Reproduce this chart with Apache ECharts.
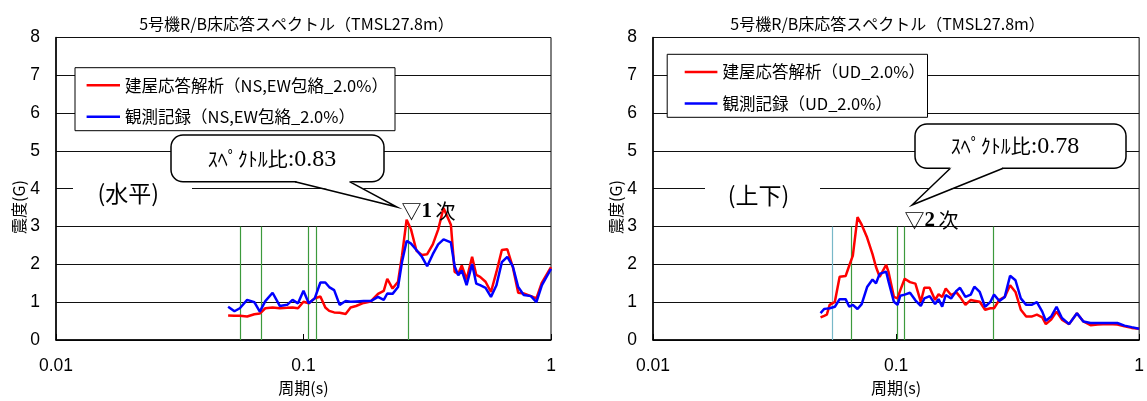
<!DOCTYPE html>
<html><head><meta charset="utf-8">
<script src="https://cdn.jsdelivr.net/npm/echarts@6/dist/echarts.min.js"></script>
<style>html,body{margin:0;padding:0;background:#fff}#c{width:1147px;height:401px}</style>
</head><body><div id="c"></div>
<script>
// ---------- text ----------
const chartTitle = '5号機R/B床応答スペクトル（TMSL27.8m）';
const leftLegend = ['建屋応答解析（NS,EW包絡_2.0%）', '観測記録（NS,EW包絡_2.0%）'];
const rightLegend = ['建屋応答解析（UD_2.0%）', '観測記録（UD_2.0%）'];
const xAxisTitle = '周期(s)';
const yAxisTitle = '震度(G)';
const xTickLabels = ['0.01', '0.1', '1'];
const yTickLabels = ['0', '1', '2', '3', '4', '5', '6', '7', '8'];
const leftRatioLabel = '0.83';
const rightRatioLabel = '0.78';

// ---------- left chart (horizontal) ----------
const leftPeriods = [0.0496, 0.0526, 0.0553, 0.0592, 0.0633, 0.0666, 0.0701, 0.0750, 0.0802, 0.0859,
  0.0903, 0.0950, 0.100, 0.105, 0.111, 0.117, 0.1225, 0.127, 0.133, 0.140,
  0.148, 0.155, 0.163, 0.175, 0.187, 0.200, 0.211, 0.218, 0.229, 0.241,
  0.250, 0.261, 0.272, 0.286, 0.301, 0.316, 0.333, 0.350, 0.368, 0.394,
  0.408, 0.422, 0.436, 0.456, 0.480, 0.499, 0.517, 0.544, 0.572, 0.602,
  0.633, 0.666, 0.701, 0.737, 0.776, 0.830, 0.873, 0.919, 1.0];
const leftAnalysis = [0.65, 0.64, 0.64, 0.62, 0.68, 0.70, 0.84, 0.86, 0.84, 0.85,
  0.86, 0.84, 1.01, 0.97, 1.10, 1.15, 0.86, 0.77, 0.73, 0.72,
  0.69, 0.86, 0.90, 0.98, 1.02, 1.22, 1.30, 1.62, 1.36, 1.54,
  2.23, 3.18, 2.92, 2.36, 2.25, 2.27, 2.53, 2.92, 3.49, 3.05,
  1.80, 1.75, 1.97, 1.60, 2.20, 1.72, 1.67, 1.54, 1.27, 1.80,
  2.38, 2.40, 1.93, 1.25, 1.23, 1.16, 1.10, 1.52, 1.93];
const leftRecord = [0.88, 0.76, 0.84, 1.06, 1.00, 0.75, 1.03, 1.25, 0.90, 0.93,
  1.06, 0.97, 1.30, 0.97, 1.10, 1.52, 1.52, 1.40, 1.32, 0.93,
  1.03, 1.01, 1.02, 1.03, 1.03, 1.14, 1.06, 1.23, 1.22, 1.40,
  2.06, 2.62, 2.55, 2.38, 2.20, 1.95, 2.27, 2.53, 2.66, 2.58,
  1.95, 1.71, 1.84, 1.45, 2.01, 1.49, 1.45, 1.38, 1.14, 1.45,
  2.06, 2.20, 1.95, 1.40, 1.19, 1.16, 1.00, 1.45, 1.88];
const leftModePeriods = [0.0557, 0.0673, 0.1045, 0.1127, 0.264];

// ---------- right chart (vertical) ----------
const rightPeriods = [0.0489, 0.0506, 0.0519, 0.0533, 0.0560, 0.0586, 0.0620, 0.0642, 0.0664, 0.0694,
  0.0722, 0.0760, 0.0800, 0.0827, 0.0856, 0.0910, 0.0931, 0.0980, 0.1014, 0.1041,
  0.1085, 0.1141, 0.1201, 0.1264, 0.1307, 0.1375, 0.1447, 0.1496, 0.1548, 0.1601,
  0.1684, 0.1772, 0.1833, 0.1929, 0.2029, 0.2099, 0.2209, 0.2324, 0.2445, 0.2529,
  0.2661, 0.2800, 0.2945, 0.3099, 0.3260, 0.3430, 0.3609, 0.3796, 0.3994, 0.4132,
  0.4346, 0.4573, 0.4812, 0.5149, 0.5548, 0.5896, 0.6310, 0.6752, 0.7474, 0.8134,
  0.8704, 0.9314, 1.0];
const rightAnalysis = [0.60, 0.64, 0.67, 0.93, 1.01, 1.67, 1.69, 1.97, 2.23, 3.25,
  3.05, 2.71, 2.27, 1.93, 1.67, 1.99, 1.80, 1.14, 1.10, 1.32,
  1.62, 1.53, 1.49, 1.01, 1.38, 1.38, 1.06, 1.21, 1.14, 1.36,
  1.19, 1.26, 1.14, 0.93, 1.06, 1.04, 1.01, 0.80, 0.84, 0.84,
  1.06, 1.14, 1.45, 1.27, 0.80, 0.62, 0.62, 0.67, 0.60, 0.42,
  0.54, 0.75, 0.54, 0.42, 0.71, 0.49, 0.39, 0.41, 0.42, 0.41,
  0.36, 0.32, 0.30];
const rightRecord = [0.71, 0.82, 0.83, 0.84, 0.88, 1.08, 1.08, 0.88, 0.93, 0.82,
  0.95, 1.40, 1.60, 1.50, 1.75, 1.81, 1.55, 1.01, 0.93, 1.17,
  1.20, 1.25, 1.05, 0.90, 1.10, 1.16, 0.95, 1.08, 0.88, 1.19,
  1.10, 1.30, 1.38, 1.14, 1.20, 1.41, 1.27, 0.88, 1.01, 1.20,
  1.03, 1.14, 1.70, 1.58, 1.10, 0.93, 0.93, 1.00, 0.75, 0.51,
  0.62, 0.88, 0.58, 0.42, 0.71, 0.49, 0.45, 0.45, 0.45, 0.45,
  0.38, 0.34, 0.30];
const rightModePeriods = [0.0545, 0.0657, 0.1014, 0.1085, 0.250];
const modeLineTop = 3;

// ---------- styling ----------
const CJK = "'Noto Sans CJK JP', 'Noto Sans', sans-serif";
const NUM = "'Liberation Sans Narrow', 'Liberation Sans', Arial, sans-serif";
const SERIF = "'Liberation Serif', 'DejaVu Serif', serif";
const RED = '#ff0000', BLUE = '#0000ff', GREEN = '#3c9a3c', TEAL = '#78b8c8';

const chart = echarts.init(document.getElementById('c'), null, {renderer: 'canvas'});

function xAxisCfg(gi) {
  return {
    type: 'log', logBase: 10, min: 0.01, max: 1, gridIndex: gi,
    axisLine: {onZero: false, lineStyle: {color: '#000', width: 1.5}},
    axisTick: {show: true, inside: true, length: 6, lineStyle: {color: '#000', width: 1}},
    axisLabel: {margin: 17, fontSize: 17.5, fontFamily: NUM, color: '#000',
      formatter: (v, i) => xTickLabels[i] !== undefined ? xTickLabels[i] : ''},
    splitLine: {show: false},
    name: xAxisTitle, nameLocation: 'middle', nameGap: 40,
    nameTextStyle: {fontSize: 16, fontFamily: CJK, color: '#000'}
  };
}
function yAxisCfg(gi) {
  return {
    type: 'value', min: 0, max: 8, interval: 1, gridIndex: gi,
    axisLine: {show: true, onZero: false, lineStyle: {color: '#000', width: 1.5}},
    axisTick: {show: false},
    axisLabel: {margin: 16, fontSize: 17.5, fontFamily: NUM, color: '#000', padding: [3, 0, 0, 0],
      formatter: (v) => yTickLabels[Math.round(v)]},
    splitLine: {show: true, lineStyle: {color: '#111', width: 1}}
  };
}
function lineSeries(name, gi, periods, vals, color, z) {
  return {
    type: 'line', name, xAxisIndex: gi, yAxisIndex: gi,
    data: periods.map((p, i) => [p, vals[i]]),
    symbol: 'none', showSymbol: false, smooth: false,
    lineStyle: {color, width: 2.5}, itemStyle: {color}, z,
    animation: false, silent: true
  };
}
function modeSeries(gi, periods, firstColor) {
  return {
    type: 'line', xAxisIndex: gi, yAxisIndex: gi, data: [], symbol: 'none', silent: true,
    animation: false, z: 1,
    markLine: {
      silent: true, symbol: ['none', 'none'], z: 1, animation: false,
      label: {show: false},
      lineStyle: {color: GREEN, width: 1.2, type: 'solid'},
      data: periods.map((p, i) => [
        {coord: [p, 0], lineStyle: {color: (i === 0 && firstColor) ? firstColor : GREEN, width: 1.2, type: 'solid'}},
        {coord: [p, modeLineTop]}
      ])
    }
  };
}
function legendCfg(names, left, top, iw) {
  return {
    data: names, left, top, orient: 'vertical', itemGap: 15, itemWidth: iw, itemHeight: 2.5,
    icon: 'rect', padding: 0, selectedMode: false, z: 12,
    textStyle: {fontSize: 16.5, lineHeight: 16, fontFamily: CJK, color: '#000'}
  };
}
function txt(x, y, text, font, extra) {
  return Object.assign({
    type: 'text', x, y, z: 20, silent: true,
    style: {text, font, fill: '#000', align: 'center', verticalAlign: 'middle',
      textAlign: 'center', textVerticalAlign: 'middle'}
  }, extra || {});
}
function rich(x, y, text, richDef) {
  return {
    type: 'text', x, y, z: 20, silent: true,
    style: {text, rich: richDef, fill: '#000', align: 'center', verticalAlign: 'middle',
      textAlign: 'center', textVerticalAlign: 'middle'}
  };
}
function bubble(rx, ry, rw, rh, b1, b2, tip) {
  const yb = ry + rh;
  return [
    {type: 'rect', z: 15, silent: true, shape: {x: rx, y: ry, width: rw, height: rh, r: 12},
      style: {fill: '#fff', stroke: '#000', lineWidth: 1.5}},
    {type: 'polygon', z: 16, silent: true, shape: {points: [[b1, yb - 1], [b2, yb - 1], tip]},
      style: {fill: '#fff', stroke: null}},
    {type: 'line', z: 16, silent: true, shape: {x1: Math.min(b1, b2) + 1.5, y1: yb, x2: Math.max(b1, b2) - 1.5, y2: yb},
      style: {stroke: '#fff', lineWidth: 3}},
    {type: 'polyline', z: 17, silent: true, shape: {points: [[b1, yb], tip, [b2, yb]]},
      style: {stroke: '#000', lineWidth: 1.5, fill: null}}
  ];
}

const ratioRich = {
  a: {fontSize: 20, fontFamily: CJK, color: '#000'},
  b: {fontSize: 24, fontFamily: SERIF, color: '#000'}
};
const modeRich = {
  t: {fontSize: 20, fontFamily: CJK, color: '#000'},
  n: {fontSize: 21, fontFamily: SERIF, fontWeight: 'bold', color: '#000'},
  k: {fontSize: 20, fontFamily: CJK, color: '#000'}
};

const graphics = [
  // titles
  txt(296.5, 23.5, chartTitle, '16px ' + CJK),
  txt(887.6, 23.5, chartTitle, '16px ' + CJK),
  // y axis titles
  txt(19, 207, yAxisTitle, '16px ' + CJK, {rotation: Math.PI / 2}),
  txt(616, 207, yAxisTitle, '16px ' + CJK, {rotation: Math.PI / 2}),
  // legend boxes
  {type: 'rect', z: 10, silent: true, shape: {x: 75, y: 67.7, width: 320, height: 63},
    style: {fill: '#fff', stroke: '#000', lineWidth: 1}},
  {type: 'rect', z: 10, silent: true, shape: {x: 667.2, y: 54.3, width: 260.3, height: 63},
    style: {fill: '#fff', stroke: '#000', lineWidth: 1}},
  // direction labels with white backing
  {type: 'rect', z: 10, silent: true, shape: {x: 73, y: 185, width: 119, height: 13}, style: {fill: '#fff'}},
  {type: 'rect', z: 10, silent: true, shape: {x: 705, y: 187, width: 115, height: 13}, style: {fill: '#fff'}},
  txt(128.3, 193, '(水平)', '23px ' + CJK),
  txt(758.5, 195, '(上下)', '23px ' + CJK),
  // mode markers
  rich(428.5, 211.7, '{t|▽}{n|1} {k|次}', modeRich),
  rich(931.5, 220.7, '{t|▽}{n|2} {k|次}', modeRich),
  // callouts
  ...bubble(171, 135, 213, 46.7, 295, 349.5, [397, 207]),
  ...bubble(915, 124, 211, 44.3, 950.4, 1003.2, [912, 205]),
  rich(272, 159.5, '{a|ｽﾍﾟｸﾄﾙ比}{b|:' + leftRatioLabel + '}', ratioRich),
  rich(1015, 146.5, '{a|ｽﾍﾟｸﾄﾙ比}{b|:' + rightRatioLabel + '}', ratioRich)
];

chart.setOption({
  animation: false,
  backgroundColor: '#fff',
  grid: [
    {left: 56, top: 37.5, width: 495, height: 307.5, show: true, borderColor: '#000', borderWidth: 1, backgroundColor: 'transparent'},
    {left: 653, top: 37.5, width: 495, height: 307.5, show: true, borderColor: '#000', borderWidth: 1, backgroundColor: 'transparent'}
  ],
  xAxis: [xAxisCfg(0), xAxisCfg(1)],
  yAxis: [yAxisCfg(0), yAxisCfg(1)],
  legend: [legendCfg(leftLegend, 86.6, 77, 33.4), legendCfg(rightLegend, 684.7, 63.7, 32.7)],
  series: [
    modeSeries(0, leftModePeriods, null),
    lineSeries(leftLegend[0], 0, leftPeriods, leftAnalysis, RED, 3),
    lineSeries(leftLegend[1], 0, leftPeriods, leftRecord, BLUE, 4),
    modeSeries(1, rightModePeriods, TEAL),
    lineSeries(rightLegend[0], 1, rightPeriods, rightAnalysis, RED, 3),
    lineSeries(rightLegend[1], 1, rightPeriods, rightRecord, BLUE, 4)
  ],
  graphic: graphics
});
</script>
</body></html>
